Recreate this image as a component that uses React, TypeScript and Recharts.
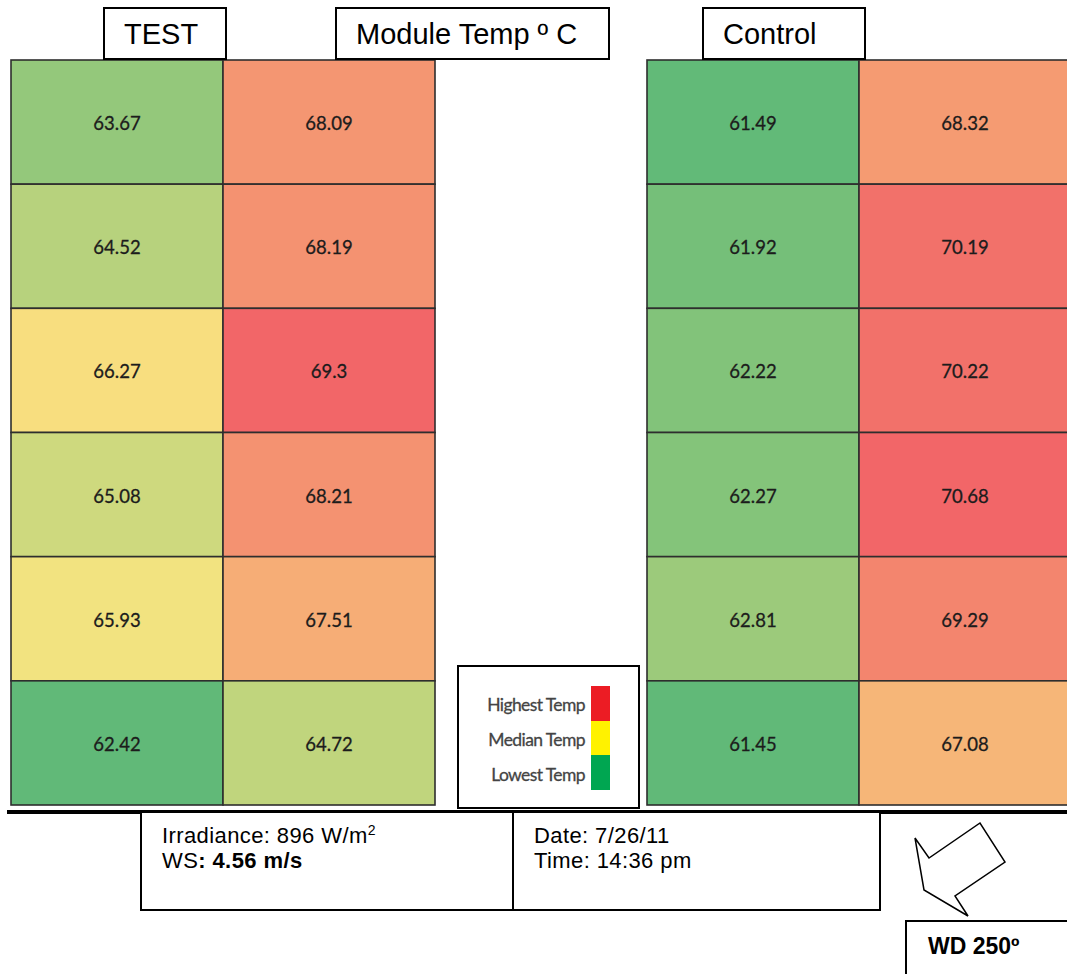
import React from 'react';
import { ScatterChart, Scatter, XAxis, YAxis } from 'recharts';

// module temperatures, read top row to bottom row
const testLeft = [63.67, 64.52, 66.27, 65.08, 65.93, 62.42];
const testRight = [68.09, 68.19, 69.3, 68.21, 67.51, 64.72];
const controlLeft = [61.49, 61.92, 62.22, 62.27, 62.81, 61.45];
const controlRight = [68.32, 70.19, 70.22, 70.68, 69.29, 67.08];

const legendLabels = ['Highest Temp', 'Median Temp', 'Lowest Temp'];
const legendColors = ['#ec1c24', '#fff200', '#00a651'];

const CHART_W = 1080;
const CHART_H = 974;
const MARGIN = { top: 60, right: 9, bottom: 169, left: 11 };
const COLS = 5;
const ROWS = 6;
const CELL_W = (CHART_W - MARGIN.left - MARGIN.right) / COLS;
const CELL_H = (CHART_H - MARGIN.top - MARGIN.bottom) / ROWS;

const LOW = [99, 190, 123];
const MID = [255, 235, 132];
const HIGH = [248, 105, 107];

function median(vals: number[]) {
  const s = [...vals].sort((a, b) => a - b);
  const m = Math.floor(s.length / 2);
  return s.length % 2 ? s[m] : (s[m - 1] + s[m]) / 2;
}

// excel style 3-colour scale, one per grid
function scaleColor(v: number, vals: number[]) {
  const min = Math.min(...vals);
  const max = Math.max(...vals);
  const mid = median(vals);
  let a = LOW, b = MID, t = 0;
  if (v <= mid) {
    t = (v - min) / (mid - min);
  } else {
    a = MID;
    b = HIGH;
    t = (v - mid) / (max - mid);
  }
  const c = a.map((x, i) => Math.round((x + (b[i] - x) * t) * 0.975));
  return `rgb(${c[0]},${c[1]},${c[2]})`;
}

const testAll = [...testLeft, ...testRight];
const controlAll = [...controlLeft, ...controlRight];

const cells = [
  ...testLeft.map((v, r) => ({ x: 0.5, y: r + 0.5, value: v, fill: scaleColor(v, testAll) })),
  ...testRight.map((v, r) => ({ x: 1.5, y: r + 0.5, value: v, fill: scaleColor(v, testAll) })),
  ...controlLeft.map((v, r) => ({ x: 3.5, y: r + 0.5, value: v, fill: scaleColor(v, controlAll) })),
  ...controlRight.map((v, r) => ({ x: 4.5, y: r + 0.5, value: v, fill: scaleColor(v, controlAll) })),
];

const renderCell = (props: any) => {
  const { cx, cy, payload } = props;
  return (
    <g>
      <rect
        x={cx - CELL_W / 2}
        y={cy - CELL_H / 2}
        width={CELL_W}
        height={CELL_H}
        fill={payload.fill}
        stroke="#2e2e2e"
        strokeWidth={1.6}
      />
      <text
        x={cx}
        y={cy + 1}
        textAnchor="middle"
        dominantBaseline="central"
        fontFamily="Lato, sans-serif"
        fontSize={18.5}
        fill="#1c1c1c"
        stroke="#1c1c1c"
        strokeWidth={0.3}
      >
        {payload.value}
      </text>
    </g>
  );
};

const boxStyle: React.CSSProperties = {
  position: 'absolute',
  border: '2px solid #000',
  background: '#fff',
  boxSizing: 'border-box',
  fontFamily: '"Liberation Sans", Arial, sans-serif',
  color: '#000',
};

const titleStyle: React.CSSProperties = {
  ...boxStyle,
  top: 7,
  height: 53,
  fontSize: 29,
  paddingLeft: 19,
  lineHeight: '50px',
};

const infoStyle: React.CSSProperties = {
  ...boxStyle,
  top: 811,
  height: 100,
  fontSize: 22,
  letterSpacing: 0.4,
  lineHeight: '25px',
  paddingLeft: 20,
  paddingTop: 10,
};

export default function App() {
  return (
    <div
      style={{
        position: 'absolute',
        left: 0,
        top: 0,
        width: 1067,
        height: 974,
        overflow: 'hidden',
        background: '#fff',
      }}
    >
      <div style={{ position: 'absolute', left: 0, top: 0 }}>
        <ScatterChart width={CHART_W} height={CHART_H} margin={MARGIN}>
          <XAxis type="number" dataKey="x" domain={[0, COLS]} hide />
          <YAxis type="number" dataKey="y" domain={[0, ROWS]} reversed hide />
          <Scatter data={cells} shape={renderCell} isAnimationActive={false} />
        </ScatterChart>
      </div>

      <div style={{ ...titleStyle, left: 103, width: 124 }}>TEST</div>
      <div style={{ ...titleStyle, left: 335, width: 275 }}>Module Temp º C</div>
      <div style={{ ...titleStyle, left: 702, width: 164 }}>Control</div>

      {/* colour legend */}
      <div style={{ ...boxStyle, left: 457, top: 665, width: 183, height: 144 }}>
        {legendLabels.map((label, i) => (
          <div
            key={label}
            style={{
              position: 'absolute',
              right: 53,
              top: 28 + i * 35,
              fontFamily: 'Lato, sans-serif',
              fontSize: 17.5,
              letterSpacing: -0.6,
              color: '#444',
              lineHeight: '20px',
              WebkitTextStroke: '0.3px #444',
            }}
          >
            {label}
          </div>
        ))}
        {legendColors.map((c, i) => (
          <div
            key={c}
            style={{
              position: 'absolute',
              left: 132,
              top: 19 + i * 34.5,
              width: 19,
              height: 35,
              background: c,
            }}
          />
        ))}
      </div>

      {/* base line */}
      <div style={{ position: 'absolute', left: 7, top: 810, width: 1070, height: 4, background: '#000' }} />

      <div style={{ ...infoStyle, left: 140, width: 374 }}>
        <div>
          Irradiance: 896 W/m<sup style={{ fontSize: 14, lineHeight: 0 }}>2</sup>
        </div>
        <div>
          WS<b>: 4.56 m/s</b>
        </div>
      </div>
      <div style={{ ...infoStyle, left: 512, width: 369 }}>
        <div>Date: 7/26/11</div>
        <div>Time: 14:36 pm</div>
      </div>

      {/* wind direction arrow */}
      <svg style={{ position: 'absolute', left: 0, top: 0 }} width={1067} height={974}>
        <polygon
          points="915,838 929,858 980,823 1005,862 955,896 968,916 924,890"
          fill="none"
          stroke="#000"
          strokeWidth={1.5}
        />
      </svg>
      <div
        style={{
          ...boxStyle,
          left: 905,
          top: 920,
          width: 200,
          height: 100,
          fontSize: 23,
          fontWeight: 'bold',
          paddingLeft: 21,
          paddingTop: 11,
        }}
      >
        WD 250º
      </div>
    </div>
  );
}
